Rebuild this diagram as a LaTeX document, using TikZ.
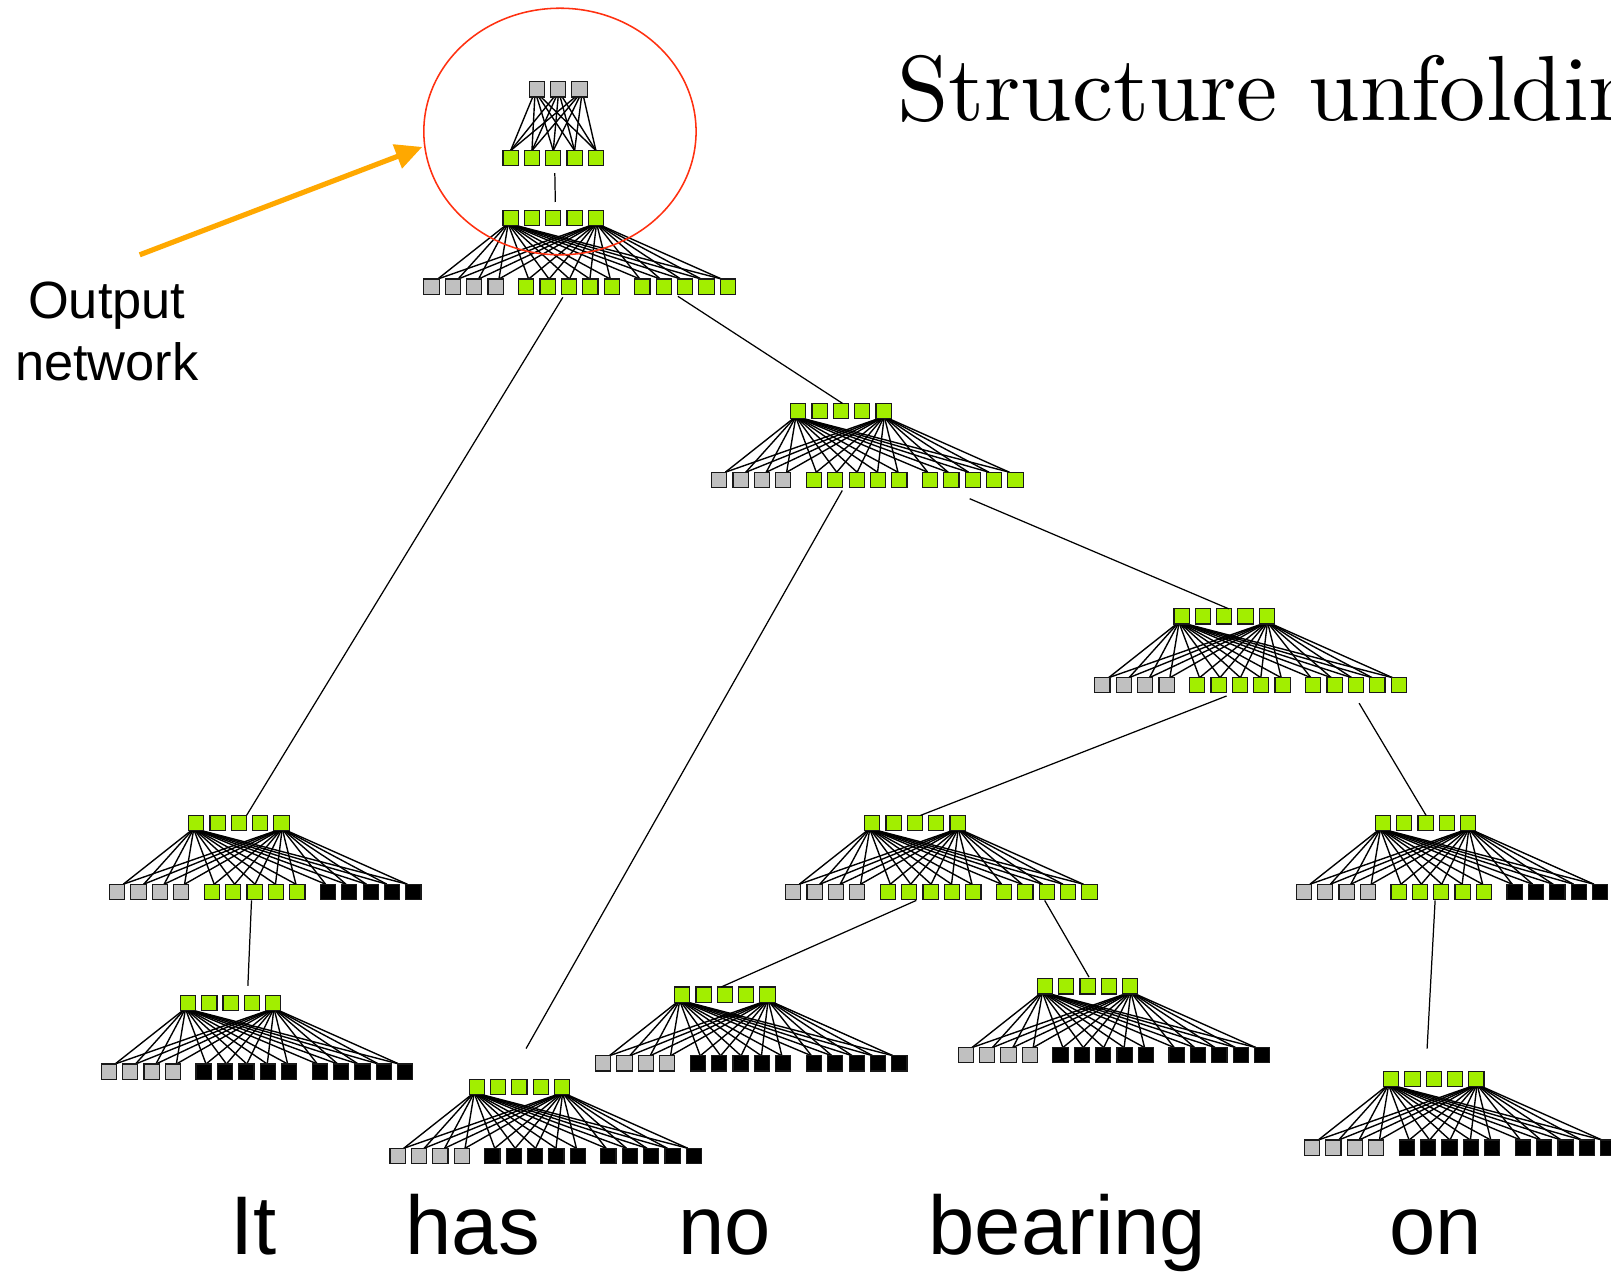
\documentclass[tikz,border=0pt]{standalone}
\usepackage{fontspec}
\usetikzlibrary{arrows.meta,shapes.geometric,backgrounds}
\newfontfamily\wordfont{Liberation Sans}
\newfontfamily\titlefont{lmroman10-regular.otf}

\definecolor{leaf}{HTML}{A2EE00}
\definecolor{pale}{HTML}{C0C0C0}
\definecolor{ring}{HTML}{FF3010}
\definecolor{pointer}{HTML}{FFA800}

\tikzset{
  sq/.style={draw=black!90, line width=1.1pt, minimum size=14.8pt, inner sep=0pt, outer sep=0pt},
  wire/.style={black, line width=1.35pt},
  link/.style={black, line width=1.2pt},
  word/.style={font=\wordfont\fontsize{81}{90}\selectfont, anchor=base, inner sep=0pt},
  note/.style={font=\wordfont\fontsize{51}{60}\selectfont, anchor=base, inner sep=0pt}
}

% one recursive layer: 5 state units on top, 14 inputs below
% (#1 name, #2/#3 centre of the first top unit, #4/#5 fills of the 2nd/3rd input groups)
\newcommand\netlayer[5]{%
  \foreach \i in {0,...,4}
    \node[sq, fill=leaf] (#1-t\i) at ({#2+20.75*\i},#3) {};
  \foreach \k in {0,...,13}{
    \pgfmathsetmacro\off{20.8*\k + (\k>3)*9 + (\k>8)*9 - 77}
    \ifnum\k<4 \def\col{pale}\else\ifnum\k<9 \def\col{#4}\else\def\col{#5}\fi\fi
    \node[sq, fill=\col] (#1-b\k) at ({#2+\off},{#3+67}) {};
  }
  \begin{pgfonlayer}{background}
  \foreach \k in {0,...,13}{
    \pgfmathsetmacro\s{-5+10*\k/13}
    \pgfmathsetmacro\e{6-12*\k/13}
    \draw[wire] ([xshift=\s pt]#1-t0.south) -- ([xshift=\e pt]#1-b\k.north);
    \draw[wire] ([xshift=\s pt]#1-t4.south) -- ([xshift=\e pt]#1-b\k.north);
  }
  \end{pgfonlayer}
}

\begin{document}
\begin{tikzpicture}[x=1pt, y=-1pt]
\useasboundingbox (0,0) rectangle (1568,1239);
\begin{pgfonlayer}{background}
\fill[white] (0,0) rectangle (1568,1239);
\end{pgfonlayer}

% title
\node[font=\titlefont\fontsize{90}{100}\selectfont, anchor=base west, inner sep=0pt] (title) at (873,117) {Structure unfolding};

% output network
\foreach \i in {0,1,2}
  \node[sq, fill=pale] (o-g\i) at ({522.5+20.75*\i},87) {};
\foreach \i in {0,...,4}
  \node[sq, fill=leaf] (o-t\i) at ({497+20.75*\i},154) {};
\begin{pgfonlayer}{background}
\foreach \i in {0,1,2}
  \foreach \j in {0,...,4}{
    \pgfmathsetmacro\s{-4+2*\j}
    \draw[wire] ([xshift=\s pt]o-g\i.south) -- (o-t\j.north);
  }
\end{pgfonlayer}

% layers of the unfolded tree
\netlayer{R}{497}{212}{leaf}{leaf}
\netlayer{M2}{777}{400}{leaf}{leaf}
\netlayer{M3}{1150}{600}{leaf}{leaf}
\netlayer{M4}{849}{801}{leaf}{leaf}
\netlayer{M5}{1346}{801}{leaf}{black}
\netlayer{It1}{191}{801}{leaf}{black}
\netlayer{It0}{183}{976}{black}{black}
\netlayer{has}{464}{1058}{black}{black}
\netlayer{no}{664}{968}{black}{black}
\netlayer{bear}{1017}{960}{black}{black}
\netlayer{on}{1354}{1050}{black}{black}

% links between layers
\draw[link] ([xshift=1.5pt,yshift=-7pt]o-t2.south) -- ([xshift=2pt,yshift=8pt]R-t2.north);
\draw[link] ([xshift=-6pt,yshift=-3pt]R-b6.south) -- ([xshift=7.5pt]It1-t2.north);
\draw[link] ([xshift=-7pt,yshift=-2pt]R-b11.south) -- ([xshift=1.5pt]M2-t2.north);
\draw[link] ([xshift=-14pt,yshift=-3pt]M2-b6.south) -- ([xshift=6.5pt,yshift=30pt]has-t2.north);
\draw[link] ([xshift=-3pt,yshift=-11pt]M2-b11.south) -- ([xshift=4.5pt]M3-t2.north);
\draw[link] ([xshift=-13pt,yshift=-3pt]M3-b6.south) -- ([xshift=5.5pt]M4-t2.north);
\draw[link] ([xshift=3pt,yshift=-10pt]M3-b11.south) -- ([xshift=0.5pt]M5-t2.north);
\draw[link] ([xshift=-14pt,yshift=-1pt]M4-b6.south) -- ([xshift=-3.5pt]no-t2.north);
\draw[link] ([xshift=-2pt,yshift=-1pt]M4-b11.south) -- ([xshift=1.5pt,yshift=1.5pt]bear-t2.north);
\draw[link] ([xshift=-6pt,yshift=-1pt]M5-b6.south) -- ([xshift=-6.5pt,yshift=22pt]on-t2.north);
\draw[link] ([xshift=-3pt,yshift=-1pt]It1-b6.south) -- ([xshift=-4pt,yshift=9pt]It0-t3.north);

% highlight of the output network
\node[draw=ring, line width=1.5pt, ellipse, minimum width=265pt, minimum height=240pt, inner sep=0pt] (focus) at (545,128) {};

% label and pointer
\node[note] (lab1) at (104,310) {Output};
\node[note] (lab2) at (104,370) {network};
\coordinate (tail) at (136,248);
\coordinate (tip) at (411,143);
\draw[pointer, line width=5pt, -{Triangle[length=26pt,width=24pt]}] (tail) -- (tip);

% words
\node[word] (w1) at (247,1221) {It};
\node[word] (w2) at (460,1221) {has};
\node[word] (w3) at (705,1221) {no};
\node[word] (w4) at (1039,1221) {bearing};
\node[word] (w5) at (1397,1221) {on};
\end{tikzpicture}
\end{document}
